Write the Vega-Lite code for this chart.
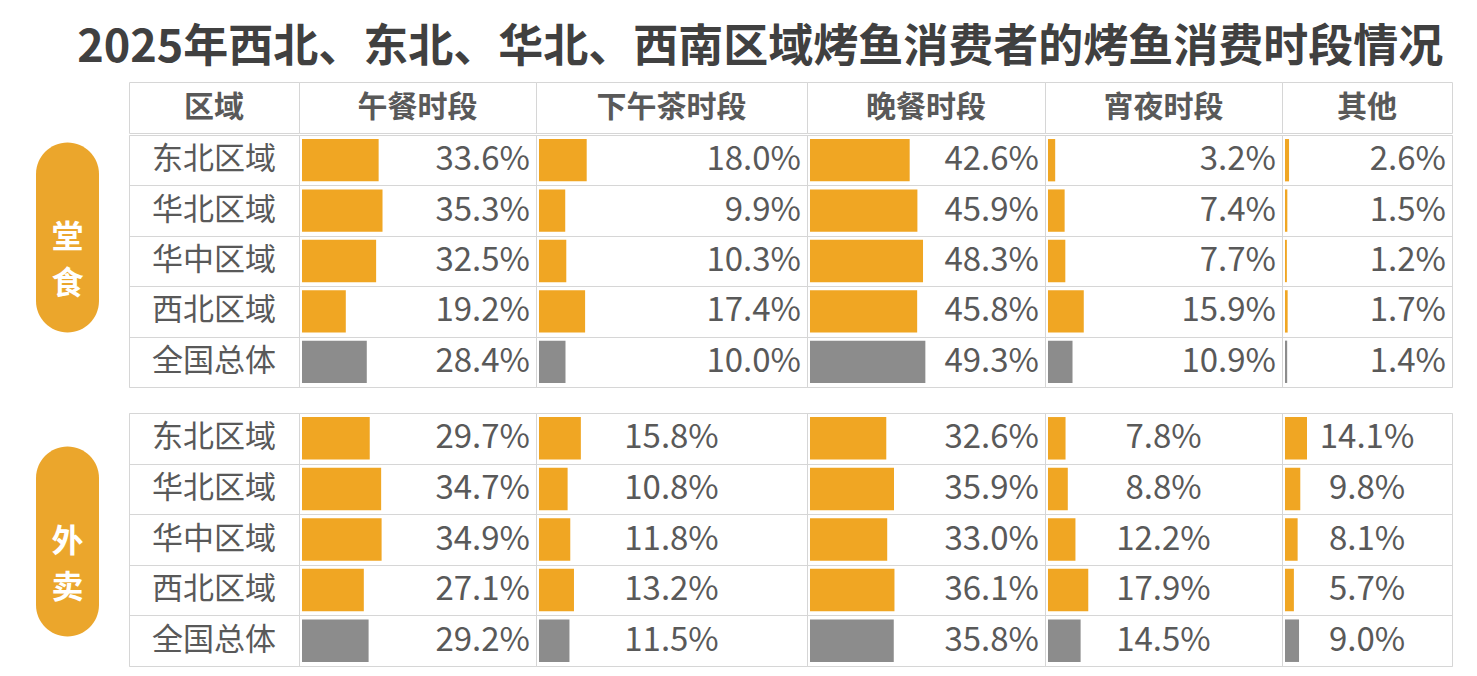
{
  "$schema": "https://vega.github.io/schema/vega-lite/v6.json",
  "padding": {"left": 0, "top": 25, "right": 0, "bottom": 0},
  "background": "white",
  "title": {"text": "2025年西北、东北、华北、西南区域烤鱼消费者的烤鱼消费时段情况", "fontSize": 45, "fontWeight": "bold", "color": "#404040", "anchor": "middle", "dx": 34, "offset": 11, "font": "Noto Sans CJK SC"},
  "config": {
    "font": "Noto Sans CJK SC",
    "view": {"stroke": "#d6d6d6", "strokeWidth": 1},
    "text": {"font": "Noto Sans CJK SC", "color": "#595959", "baseline": "middle"}
  },
  "datasets": {
    "channels": [{"channel": "堂食"}, {"channel": "外卖"}],
    "cells": [
      {"channel": "堂食", "region": "东北区域", "period": "午餐时段", "value": 0.336},
      {"channel": "堂食", "region": "东北区域", "period": "下午茶时段", "value": 0.180},
      {"channel": "堂食", "region": "东北区域", "period": "晚餐时段", "value": 0.426},
      {"channel": "堂食", "region": "东北区域", "period": "宵夜时段", "value": 0.032},
      {"channel": "堂食", "region": "东北区域", "period": "其他", "value": 0.026},
      {"channel": "堂食", "region": "华北区域", "period": "午餐时段", "value": 0.353},
      {"channel": "堂食", "region": "华北区域", "period": "下午茶时段", "value": 0.099},
      {"channel": "堂食", "region": "华北区域", "period": "晚餐时段", "value": 0.459},
      {"channel": "堂食", "region": "华北区域", "period": "宵夜时段", "value": 0.074},
      {"channel": "堂食", "region": "华北区域", "period": "其他", "value": 0.015},
      {"channel": "堂食", "region": "华中区域", "period": "午餐时段", "value": 0.325},
      {"channel": "堂食", "region": "华中区域", "period": "下午茶时段", "value": 0.103},
      {"channel": "堂食", "region": "华中区域", "period": "晚餐时段", "value": 0.483},
      {"channel": "堂食", "region": "华中区域", "period": "宵夜时段", "value": 0.077},
      {"channel": "堂食", "region": "华中区域", "period": "其他", "value": 0.012},
      {"channel": "堂食", "region": "西北区域", "period": "午餐时段", "value": 0.192},
      {"channel": "堂食", "region": "西北区域", "period": "下午茶时段", "value": 0.174},
      {"channel": "堂食", "region": "西北区域", "period": "晚餐时段", "value": 0.458},
      {"channel": "堂食", "region": "西北区域", "period": "宵夜时段", "value": 0.159},
      {"channel": "堂食", "region": "西北区域", "period": "其他", "value": 0.017},
      {"channel": "堂食", "region": "全国总体", "period": "午餐时段", "value": 0.284},
      {"channel": "堂食", "region": "全国总体", "period": "下午茶时段", "value": 0.100},
      {"channel": "堂食", "region": "全国总体", "period": "晚餐时段", "value": 0.493},
      {"channel": "堂食", "region": "全国总体", "period": "宵夜时段", "value": 0.109},
      {"channel": "堂食", "region": "全国总体", "period": "其他", "value": 0.014},
      {"channel": "外卖", "region": "东北区域", "period": "午餐时段", "value": 0.297},
      {"channel": "外卖", "region": "东北区域", "period": "下午茶时段", "value": 0.158},
      {"channel": "外卖", "region": "东北区域", "period": "晚餐时段", "value": 0.326},
      {"channel": "外卖", "region": "东北区域", "period": "宵夜时段", "value": 0.078},
      {"channel": "外卖", "region": "东北区域", "period": "其他", "value": 0.141},
      {"channel": "外卖", "region": "华北区域", "period": "午餐时段", "value": 0.347},
      {"channel": "外卖", "region": "华北区域", "period": "下午茶时段", "value": 0.108},
      {"channel": "外卖", "region": "华北区域", "period": "晚餐时段", "value": 0.359},
      {"channel": "外卖", "region": "华北区域", "period": "宵夜时段", "value": 0.088},
      {"channel": "外卖", "region": "华北区域", "period": "其他", "value": 0.098},
      {"channel": "外卖", "region": "华中区域", "period": "午餐时段", "value": 0.349},
      {"channel": "外卖", "region": "华中区域", "period": "下午茶时段", "value": 0.118},
      {"channel": "外卖", "region": "华中区域", "period": "晚餐时段", "value": 0.330},
      {"channel": "外卖", "region": "华中区域", "period": "宵夜时段", "value": 0.122},
      {"channel": "外卖", "region": "华中区域", "period": "其他", "value": 0.081},
      {"channel": "外卖", "region": "西北区域", "period": "午餐时段", "value": 0.271},
      {"channel": "外卖", "region": "西北区域", "period": "下午茶时段", "value": 0.132},
      {"channel": "外卖", "region": "西北区域", "period": "晚餐时段", "value": 0.361},
      {"channel": "外卖", "region": "西北区域", "period": "宵夜时段", "value": 0.179},
      {"channel": "外卖", "region": "西北区域", "period": "其他", "value": 0.057},
      {"channel": "外卖", "region": "全国总体", "period": "午餐时段", "value": 0.292},
      {"channel": "外卖", "region": "全国总体", "period": "下午茶时段", "value": 0.115},
      {"channel": "外卖", "region": "全国总体", "period": "晚餐时段", "value": 0.358},
      {"channel": "外卖", "region": "全国总体", "period": "宵夜时段", "value": 0.145},
      {"channel": "外卖", "region": "全国总体", "period": "其他", "value": 0.090}
    ]
  },
  "hconcat": [
    {
      "bounds": "flush",
      "vconcat": [
        {
          "width": 128, "height": 303,
          "view": {"stroke": null},
          "data": {"name": "channels"},
          "transform": [{"filter": "datum.channel === '堂食'"}],
          "encoding": {
            "x": {"field": "channel", "type": "nominal", "axis": null, "scale": {"paddingInner": 0, "paddingOuter": 0}},
            "y": {"field": "channel", "type": "nominal", "axis": null, "scale": {"paddingInner": 0, "paddingOuter": 0}}
          },
          "layer": [
            {"mark": {"type": "bar", "width": 63, "height": 190, "cornerRadius": 31.5, "color": "#EBA62C", "xOffset": 3.5, "yOffset": 4}},
            {"mark": {"type": "text", "text": {"expr": "split(datum.channel, '')"}, "color": "white", "fontWeight": "bold", "fontSize": 32, "lineHeight": 46, "xOffset": 3.5, "yOffset": 4}}
          ]
        },
        {
          "width": 128, "height": 253,
          "view": {"stroke": null},
          "data": {"name": "channels"},
          "transform": [{"filter": "datum.channel === '外卖'"}],
          "encoding": {
            "x": {"field": "channel", "type": "nominal", "axis": null, "scale": {"paddingInner": 0, "paddingOuter": 0}},
            "y": {"field": "channel", "type": "nominal", "axis": null, "scale": {"paddingInner": 0, "paddingOuter": 0}}
          },
          "layer": [
            {"mark": {"type": "bar", "width": 63, "height": 190, "cornerRadius": 31.5, "color": "#EBA62C", "xOffset": 3.5, "yOffset": 3}},
            {"mark": {"type": "text", "text": {"expr": "split(datum.channel, '')"}, "color": "white", "fontWeight": "bold", "fontSize": 32, "lineHeight": 46, "xOffset": 3.5, "yOffset": 3}}
          ]
        }
      ],
      "spacing": 27
    },
    {
      "vconcat": [
        {
          "vconcat": [
            {
              "bounds": "flush",
              "hconcat": [
                {"width": 170, "height": 51, "data": {"values": [{"header": "区域"}]}, "mark": {"type": "text", "fontWeight": "bold", "fontSize": 30}, "encoding": {"x": {"field": "header", "type": "nominal", "axis": null, "scale": {"paddingInner": 0, "paddingOuter": 0}}, "y": {"field": "header", "type": "nominal", "axis": null, "scale": {"paddingInner": 0, "paddingOuter": 0}}, "text": {"field": "header"}}},
                {"width": 237, "height": 51, "data": {"values": [{"header": "午餐时段"}]}, "mark": {"type": "text", "fontWeight": "bold", "fontSize": 30}, "encoding": {"x": {"field": "header", "type": "nominal", "axis": null, "scale": {"paddingInner": 0, "paddingOuter": 0}}, "y": {"field": "header", "type": "nominal", "axis": null, "scale": {"paddingInner": 0, "paddingOuter": 0}}, "text": {"field": "header"}}},
                {"width": 271, "height": 51, "data": {"values": [{"header": "下午茶时段"}]}, "mark": {"type": "text", "fontWeight": "bold", "fontSize": 30}, "encoding": {"x": {"field": "header", "type": "nominal", "axis": null, "scale": {"paddingInner": 0, "paddingOuter": 0}}, "y": {"field": "header", "type": "nominal", "axis": null, "scale": {"paddingInner": 0, "paddingOuter": 0}}, "text": {"field": "header"}}},
                {"width": 238, "height": 51, "data": {"values": [{"header": "晚餐时段"}]}, "mark": {"type": "text", "fontWeight": "bold", "fontSize": 30}, "encoding": {"x": {"field": "header", "type": "nominal", "axis": null, "scale": {"paddingInner": 0, "paddingOuter": 0}}, "y": {"field": "header", "type": "nominal", "axis": null, "scale": {"paddingInner": 0, "paddingOuter": 0}}, "text": {"field": "header"}}},
                {"width": 237, "height": 51, "data": {"values": [{"header": "宵夜时段"}]}, "mark": {"type": "text", "fontWeight": "bold", "fontSize": 30}, "encoding": {"x": {"field": "header", "type": "nominal", "axis": null, "scale": {"paddingInner": 0, "paddingOuter": 0}}, "y": {"field": "header", "type": "nominal", "axis": null, "scale": {"paddingInner": 0, "paddingOuter": 0}}, "text": {"field": "header"}}},
                {"width": 170, "height": 51, "data": {"values": [{"header": "其他"}]}, "mark": {"type": "text", "fontWeight": "bold", "fontSize": 30}, "encoding": {"x": {"field": "header", "type": "nominal", "axis": null, "scale": {"paddingInner": 0, "paddingOuter": 0}}, "y": {"field": "header", "type": "nominal", "axis": null, "scale": {"paddingInner": 0, "paddingOuter": 0}}, "text": {"field": "header"}}}
              ],
              "spacing": 0
            },
            {
              "bounds": "flush",
              "hconcat": [
                {
                  "width": 170, "height": 252,
                  "data": {"name": "cells"},
                  "transform": [{"filter": "datum.channel === '堂食' && datum.period === '午餐时段'"}],
                  "mark": {"type": "text", "fontSize": 31},
                  "encoding": {
                    "x": {"field": "period", "type": "nominal", "axis": null, "scale": {"paddingInner": 0, "paddingOuter": 0}},
                    "y": {"field": "region", "type": "nominal", "sort": ["东北区域", "华北区域", "华中区域", "西北区域", "全国总体"], "scale": {"domain": ["东北区域", "华北区域", "华中区域", "西北区域", "全国总体"], "paddingInner": 0, "paddingOuter": 0}, "axis": {"title": null, "labels": false, "ticks": false, "domain": false, "grid": true, "tickBand": "extent", "gridColor": "#d6d6d6"}},
                    "text": {"field": "region"}
                  }
                },
                {
                  "width": 237, "height": 252,
                  "data": {"name": "cells"},
                  "transform": [{"filter": "datum.channel === '堂食' && datum.period === '午餐时段'"}],
                  "encoding": {
                    "y": {"field": "region", "type": "nominal", "sort": ["东北区域", "华北区域", "华中区域", "西北区域", "全国总体"], "scale": {"domain": ["东北区域", "华北区域", "华中区域", "西北区域", "全国总体"], "paddingInner": 0, "paddingOuter": 0}, "axis": {"title": null, "labels": false, "ticks": false, "domain": false, "grid": true, "tickBand": "extent", "gridColor": "#d6d6d6"}}
                  },
                  "layer": [
                    {"mark": {"type": "bar", "height": {"band": 0.84}}, "encoding": {"x": {"field": "value", "type": "quantitative", "scale": {"domain": [-0.0132, 1.026], "nice": false}, "axis": null}, "color": {"field": "region", "type": "nominal", "scale": {"domain": ["东北区域", "华北区域", "华中区域", "西北区域", "全国总体"], "range": ["#F0A623", "#F0A623", "#F0A623", "#F0A623", "#8C8C8C"]}, "legend": null}}},
                    {"mark": {"type": "text", "x": "width", "dx": -6, "align": "right", "fontSize": 33}, "encoding": {"text": {"field": "value", "format": ".1%"}}}
                  ]
                },
                {
                  "width": 271, "height": 252,
                  "data": {"name": "cells"},
                  "transform": [{"filter": "datum.channel === '堂食' && datum.period === '下午茶时段'"}],
                  "encoding": {
                    "y": {"field": "region", "type": "nominal", "sort": ["东北区域", "华北区域", "华中区域", "西北区域", "全国总体"], "scale": {"domain": ["东北区域", "华北区域", "华中区域", "西北区域", "全国总体"], "paddingInner": 0, "paddingOuter": 0}, "axis": {"title": null, "labels": false, "ticks": false, "domain": false, "grid": true, "tickBand": "extent", "gridColor": "#d6d6d6"}}
                  },
                  "layer": [
                    {"mark": {"type": "bar", "height": {"band": 0.84}}, "encoding": {"x": {"field": "value", "type": "quantitative", "scale": {"domain": [-0.0113, 1.0113], "nice": false}, "axis": null}, "color": {"field": "region", "type": "nominal", "scale": {"domain": ["东北区域", "华北区域", "华中区域", "西北区域", "全国总体"], "range": ["#F0A623", "#F0A623", "#F0A623", "#F0A623", "#8C8C8C"]}, "legend": null}}},
                    {"mark": {"type": "text", "x": "width", "dx": -6, "align": "right", "fontSize": 33}, "encoding": {"text": {"field": "value", "format": ".1%"}}}
                  ]
                },
                {
                  "width": 238, "height": 252,
                  "data": {"name": "cells"},
                  "transform": [{"filter": "datum.channel === '堂食' && datum.period === '晚餐时段'"}],
                  "encoding": {
                    "y": {"field": "region", "type": "nominal", "sort": ["东北区域", "华北区域", "华中区域", "西北区域", "全国总体"], "scale": {"domain": ["东北区域", "华北区域", "华中区域", "西北区域", "全国总体"], "paddingInner": 0, "paddingOuter": 0}, "axis": {"title": null, "labels": false, "ticks": false, "domain": false, "grid": true, "tickBand": "extent", "gridColor": "#d6d6d6"}}
                  },
                  "layer": [
                    {"mark": {"type": "bar", "height": {"band": 0.84}}, "encoding": {"x": {"field": "value", "type": "quantitative", "scale": {"domain": [-0.0128, 1.0043], "nice": false}, "axis": null}, "color": {"field": "region", "type": "nominal", "scale": {"domain": ["东北区域", "华北区域", "华中区域", "西北区域", "全国总体"], "range": ["#F0A623", "#F0A623", "#F0A623", "#F0A623", "#8C8C8C"]}, "legend": null}}},
                    {"mark": {"type": "text", "x": "width", "dx": -6, "align": "right", "fontSize": 33}, "encoding": {"text": {"field": "value", "format": ".1%"}}}
                  ]
                },
                {
                  "width": 237, "height": 252,
                  "data": {"name": "cells"},
                  "transform": [{"filter": "datum.channel === '堂食' && datum.period === '宵夜时段'"}],
                  "encoding": {
                    "y": {"field": "region", "type": "nominal", "sort": ["东北区域", "华北区域", "华中区域", "西北区域", "全国总体"], "scale": {"domain": ["东北区域", "华北区域", "华中区域", "西北区域", "全国总体"], "paddingInner": 0, "paddingOuter": 0}, "axis": {"title": null, "labels": false, "ticks": false, "domain": false, "grid": true, "tickBand": "extent", "gridColor": "#d6d6d6"}}
                  },
                  "layer": [
                    {"mark": {"type": "bar", "height": {"band": 0.84}}, "encoding": {"x": {"field": "value", "type": "quantitative", "scale": {"domain": [-0.0133, 1.04], "nice": false}, "axis": null}, "color": {"field": "region", "type": "nominal", "scale": {"domain": ["东北区域", "华北区域", "华中区域", "西北区域", "全国总体"], "range": ["#F0A623", "#F0A623", "#F0A623", "#F0A623", "#8C8C8C"]}, "legend": null}}},
                    {"mark": {"type": "text", "x": "width", "dx": -6, "align": "right", "fontSize": 33}, "encoding": {"text": {"field": "value", "format": ".1%"}}}
                  ]
                },
                {
                  "width": 170, "height": 252,
                  "data": {"name": "cells"},
                  "transform": [{"filter": "datum.channel === '堂食' && datum.period === '其他'"}],
                  "encoding": {
                    "y": {"field": "region", "type": "nominal", "sort": ["东北区域", "华北区域", "华中区域", "西北区域", "全国总体"], "scale": {"domain": ["东北区域", "华北区域", "华中区域", "西北区域", "全国总体"], "paddingInner": 0, "paddingOuter": 0}, "axis": {"title": null, "labels": false, "ticks": false, "domain": false, "grid": true, "tickBand": "extent", "gridColor": "#d6d6d6"}}
                  },
                  "layer": [
                    {"mark": {"type": "bar", "height": {"band": 0.84}}, "encoding": {"x": {"field": "value", "type": "quantitative", "scale": {"domain": [-0.0192, 1.0705], "nice": false}, "axis": null}, "color": {"field": "region", "type": "nominal", "scale": {"domain": ["东北区域", "华北区域", "华中区域", "西北区域", "全国总体"], "range": ["#F0A623", "#F0A623", "#F0A623", "#F0A623", "#8C8C8C"]}, "legend": null}}},
                    {"mark": {"type": "text", "x": "width", "dx": -6, "align": "right", "fontSize": 33}, "encoding": {"text": {"field": "value", "format": ".1%"}}}
                  ]
                }
              ],
              "spacing": 0
            }
          ],
          "spacing": 0
        },
        {
          "bounds": "flush",
          "hconcat": [
            {
              "width": 170, "height": 253,
              "data": {"name": "cells"},
              "transform": [{"filter": "datum.channel === '外卖' && datum.period === '午餐时段'"}],
              "mark": {"type": "text", "fontSize": 31},
              "encoding": {
                "x": {"field": "period", "type": "nominal", "axis": null, "scale": {"paddingInner": 0, "paddingOuter": 0}},
                "y": {"field": "region", "type": "nominal", "sort": ["东北区域", "华北区域", "华中区域", "西北区域", "全国总体"], "scale": {"domain": ["东北区域", "华北区域", "华中区域", "西北区域", "全国总体"], "paddingInner": 0, "paddingOuter": 0}, "axis": {"title": null, "labels": false, "ticks": false, "domain": false, "grid": true, "tickBand": "extent", "gridColor": "#d6d6d6"}},
                "text": {"field": "region"}
              }
            },
            {
              "width": 237, "height": 253,
              "data": {"name": "cells"},
              "transform": [{"filter": "datum.channel === '外卖' && datum.period === '午餐时段'"}],
              "encoding": {
                "y": {"field": "region", "type": "nominal", "sort": ["东北区域", "华北区域", "华中区域", "西北区域", "全国总体"], "scale": {"domain": ["东北区域", "华北区域", "华中区域", "西北区域", "全国总体"], "paddingInner": 0, "paddingOuter": 0}, "axis": {"title": null, "labels": false, "ticks": false, "domain": false, "grid": true, "tickBand": "extent", "gridColor": "#d6d6d6"}}
              },
              "layer": [
                {"mark": {"type": "bar", "height": {"band": 0.84}}, "encoding": {"x": {"field": "value", "type": "quantitative", "scale": {"domain": [-0.0132, 1.026], "nice": false}, "axis": null}, "color": {"field": "region", "type": "nominal", "scale": {"domain": ["东北区域", "华北区域", "华中区域", "西北区域", "全国总体"], "range": ["#F0A623", "#F0A623", "#F0A623", "#F0A623", "#8C8C8C"]}, "legend": null}}},
                {"mark": {"type": "text", "x": "width", "dx": -6, "align": "right", "fontSize": 33}, "encoding": {"text": {"field": "value", "format": ".1%"}}}
              ]
            },
            {
              "width": 271, "height": 253,
              "data": {"name": "cells"},
              "transform": [{"filter": "datum.channel === '外卖' && datum.period === '下午茶时段'"}],
              "encoding": {
                "y": {"field": "region", "type": "nominal", "sort": ["东北区域", "华北区域", "华中区域", "西北区域", "全国总体"], "scale": {"domain": ["东北区域", "华北区域", "华中区域", "西北区域", "全国总体"], "paddingInner": 0, "paddingOuter": 0}, "axis": {"title": null, "labels": false, "ticks": false, "domain": false, "grid": true, "tickBand": "extent", "gridColor": "#d6d6d6"}}
              },
              "layer": [
                {"mark": {"type": "bar", "height": {"band": 0.84}}, "encoding": {"x": {"field": "value", "type": "quantitative", "scale": {"domain": [-0.0113, 1.0113], "nice": false}, "axis": null}, "color": {"field": "region", "type": "nominal", "scale": {"domain": ["东北区域", "华北区域", "华中区域", "西北区域", "全国总体"], "range": ["#F0A623", "#F0A623", "#F0A623", "#F0A623", "#8C8C8C"]}, "legend": null}}},
                {"mark": {"type": "text", "align": "center", "fontSize": 33}, "encoding": {"x": {"datum": 0.5}, "text": {"field": "value", "format": ".1%"}}}
              ]
            },
            {
              "width": 238, "height": 253,
              "data": {"name": "cells"},
              "transform": [{"filter": "datum.channel === '外卖' && datum.period === '晚餐时段'"}],
              "encoding": {
                "y": {"field": "region", "type": "nominal", "sort": ["东北区域", "华北区域", "华中区域", "西北区域", "全国总体"], "scale": {"domain": ["东北区域", "华北区域", "华中区域", "西北区域", "全国总体"], "paddingInner": 0, "paddingOuter": 0}, "axis": {"title": null, "labels": false, "ticks": false, "domain": false, "grid": true, "tickBand": "extent", "gridColor": "#d6d6d6"}}
              },
              "layer": [
                {"mark": {"type": "bar", "height": {"band": 0.84}}, "encoding": {"x": {"field": "value", "type": "quantitative", "scale": {"domain": [-0.0128, 1.0043], "nice": false}, "axis": null}, "color": {"field": "region", "type": "nominal", "scale": {"domain": ["东北区域", "华北区域", "华中区域", "西北区域", "全国总体"], "range": ["#F0A623", "#F0A623", "#F0A623", "#F0A623", "#8C8C8C"]}, "legend": null}}},
                {"mark": {"type": "text", "x": "width", "dx": -6, "align": "right", "fontSize": 33}, "encoding": {"text": {"field": "value", "format": ".1%"}}}
              ]
            },
            {
              "width": 237, "height": 253,
              "data": {"name": "cells"},
              "transform": [{"filter": "datum.channel === '外卖' && datum.period === '宵夜时段'"}],
              "encoding": {
                "y": {"field": "region", "type": "nominal", "sort": ["东北区域", "华北区域", "华中区域", "西北区域", "全国总体"], "scale": {"domain": ["东北区域", "华北区域", "华中区域", "西北区域", "全国总体"], "paddingInner": 0, "paddingOuter": 0}, "axis": {"title": null, "labels": false, "ticks": false, "domain": false, "grid": true, "tickBand": "extent", "gridColor": "#d6d6d6"}}
              },
              "layer": [
                {"mark": {"type": "bar", "height": {"band": 0.84}}, "encoding": {"x": {"field": "value", "type": "quantitative", "scale": {"domain": [-0.0133, 1.04], "nice": false}, "axis": null}, "color": {"field": "region", "type": "nominal", "scale": {"domain": ["东北区域", "华北区域", "华中区域", "西北区域", "全国总体"], "range": ["#F0A623", "#F0A623", "#F0A623", "#F0A623", "#8C8C8C"]}, "legend": null}}},
                {"mark": {"type": "text", "align": "center", "fontSize": 33}, "encoding": {"x": {"datum": 0.5133}, "text": {"field": "value", "format": ".1%"}}}
              ]
            },
            {
              "width": 170, "height": 253,
              "data": {"name": "cells"},
              "transform": [{"filter": "datum.channel === '外卖' && datum.period === '其他'"}],
              "encoding": {
                "y": {"field": "region", "type": "nominal", "sort": ["东北区域", "华北区域", "华中区域", "西北区域", "全国总体"], "scale": {"domain": ["东北区域", "华北区域", "华中区域", "西北区域", "全国总体"], "paddingInner": 0, "paddingOuter": 0}, "axis": {"title": null, "labels": false, "ticks": false, "domain": false, "grid": true, "tickBand": "extent", "gridColor": "#d6d6d6"}}
              },
              "layer": [
                {"mark": {"type": "bar", "height": {"band": 0.84}}, "encoding": {"x": {"field": "value", "type": "quantitative", "scale": {"domain": [-0.0192, 1.0705], "nice": false}, "axis": null}, "color": {"field": "region", "type": "nominal", "scale": {"domain": ["东北区域", "华北区域", "华中区域", "西北区域", "全国总体"], "range": ["#F0A623", "#F0A623", "#F0A623", "#F0A623", "#8C8C8C"]}, "legend": null}}},
                {"mark": {"type": "text", "align": "center", "fontSize": 33}, "encoding": {"x": {"datum": 0.5257}, "text": {"field": "value", "format": ".1%"}}}
              ]
            }
          ],
          "spacing": 0
        }
      ],
      "spacing": 24
    }
  ],
  "spacing": 0
}
